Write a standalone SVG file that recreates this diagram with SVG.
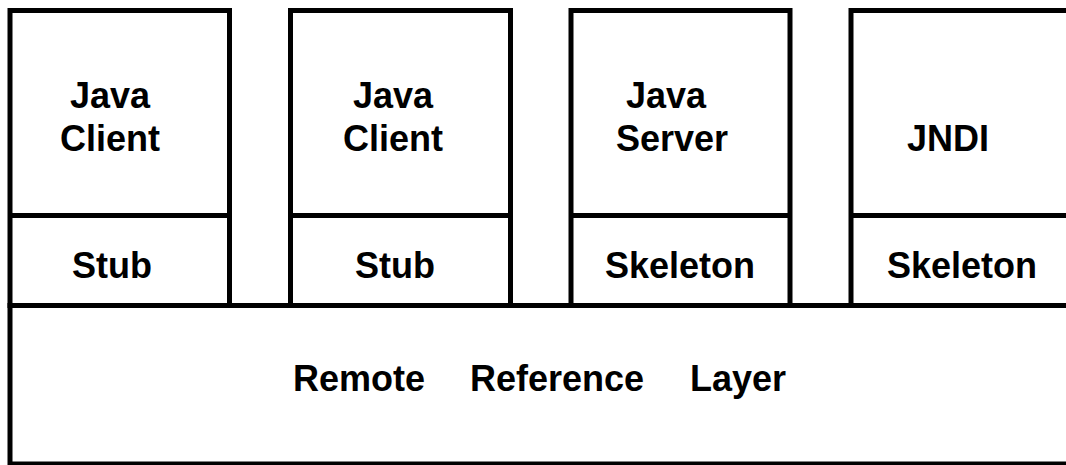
<svg xmlns="http://www.w3.org/2000/svg" width="1066" height="465" viewBox="0 0 1066 465">
<style>
.b{fill:#fff;stroke:#000;stroke-width:5}
.l{stroke:#000;stroke-width:5}
.t{font-family:"Liberation Sans",Arial,sans-serif;font-weight:bold;font-size:36px;fill:#000}
</style>
<rect width="1066" height="465" fill="#fff"/>
<g id="rrl">
<rect class="b" x="10" y="305.5" width="1070" height="158.5"/>
<text class="t" x="293" y="391">Remote</text>
<text class="t" x="470" y="391">Reference</text>
<text class="t" x="690" y="391">Layer</text>
</g>
<g id="client1">
<rect class="b" x="10" y="10.5" width="219.5" height="295"/>
<line class="l" x1="10" y1="215.5" x2="229.5" y2="215.5"/>
<text class="t" x="70" y="108">Java</text>
<text class="t" x="60" y="151">Client</text>
<text class="t" x="72" y="278">Stub</text>
</g>
<g id="client2">
<rect class="b" x="290.5" y="10.5" width="220" height="295"/>
<line class="l" x1="290.5" y1="215.5" x2="510.5" y2="215.5"/>
<text class="t" x="353" y="108">Java</text>
<text class="t" x="343" y="151">Client</text>
<text class="t" x="355" y="278">Stub</text>
</g>
<g id="server">
<rect class="b" x="571" y="10.5" width="219" height="295"/>
<line class="l" x1="571" y1="215.5" x2="790" y2="215.5"/>
<text class="t" x="626" y="108">Java</text>
<text class="t" x="616" y="151">Server</text>
<text class="t" x="605" y="278">Skeleton</text>
</g>
<g id="jndi">
<rect class="b" x="851" y="10.5" width="230" height="295"/>
<line class="l" x1="851" y1="215.5" x2="1081" y2="215.5"/>
<text class="t" x="907" y="151">JNDI</text>
<text class="t" x="887" y="278">Skeleton</text>
</g>
<g id="connectors"/>
</svg>
